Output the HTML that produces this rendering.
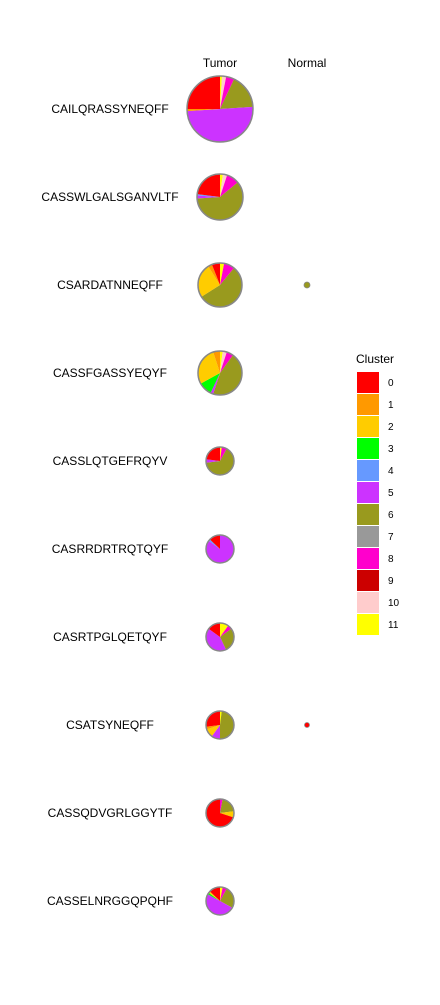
<!DOCTYPE html>
<html><head><style>body{margin:0;background:#fff}text{font-family:"Liberation Sans",sans-serif}</style></head>
<body>
<svg id="c" width="440" height="1000"></svg>
<script>
const clusters=["0","1","2","3","4","5","6","7","8","9","10","11"];
const colors=["#ff0000","#ff9900","#ffcc00","#00ff00","#6699ff","#cc33ff","#999a1e","#999999","#ff00cc","#cc0000","#ffcccc","#ffff00"];
const clonotypes=["CAILQRASSYNEQFF","CASSWLGALSGANVLTF","CSARDATNNEQFF","CASSFGASSYEQYF","CASSLQTGEFRQYV","CASRRDRTRQTQYF","CASRTPGLQETQYF","CSATSYNEQFF","CASSQDVGRLGGYTF","CASSELNRGGQPQHF"];
const tumorSizes=[33,23,22,22,14,14,14,14,14,14];
const tumorFractions=[
[.25,.01,0,0,0,.5,.17,0,.04,0,.02,.01],
[.23,0,0,0,.01,.02,.6,0,.09,0,.03,.02],
[.06,.03,.25,0,0,0,.55,0,.08,0,0,.03],
[0,.05,.28,.1,0,.02,.45,0,.05,0,.03,.02],
[.23,0,0,0,0,.04,.65,0,.06,0,0,.02],
[.13,0,0,0,.02,.85,0,0,0,0,0,0],
[.15,0,0,0,0,.42,.28,0,.05,0,0,.1],
[.27,.03,.1,0,0,.1,.48,0,0,0,0,.02],
[.7,0,.07,0,0,0,.2,0,.03,0,0,0],
[.13,0,.02,.02,0,.5,.25,0,.05,0,0,.03]];
const normalSizes=[0,0,3,0,0,0,0,2.5,0,0];
const normalFractions=[null,null,[0,0,0,0,0,0,1,0,0,0,0,0],null,null,null,null,[1,0,0,0,0,0,0,0,0,0,0,0],null,null];
const svg=document.getElementById('c');const NS="http://www.w3.org/2000/svg";
function el(t,a,p){const e=document.createElementNS(NS,t);for(const k in a)e.setAttribute(k,a[k]);(p||svg).appendChild(e);return e;}
const yRow=i=>109+i*88.0;const xCol=j=>220+j*87;
function pie(cx,cy,r,fr,name){
 const g=el('g',{});
 
 
 let a=0;const tot=fr.reduce((s,v)=>s+v,0);
 for(let k=11;k>=0;k--){const v=fr[k]/tot;if(!v)continue;
  const a0=a,a1=a+v*2*Math.PI;a=a1;
  const x0=cx+r*Math.sin(a0),y0=cy-r*Math.cos(a0),x1=cx+r*Math.sin(a1),y1=cy-r*Math.cos(a1);
  let s;
  if(v>=0.9999)s=el('circle',{cx,cy,r,fill:colors[k]},g);
  else s=el('path',{d:`M${cx},${cy}L${x0},${y0}A${r},${r} 0 ${v>0.5?1:0} 1 ${x1},${y1}Z`,fill:colors[k]},g);
  
  }
 const o=el('circle',{cx,cy,r,fill:'none',stroke:'#888',"stroke-width":r>5?1.5:0.8},g);
 
 
}
["Tumor","Normal"].forEach((h,j)=>{const t=el('text',{x:xCol(j),y:67,"text-anchor":"middle","font-size":12});t.textContent=h;
 
 });
clonotypes.forEach((c,i)=>{const t=el('text',{x:110,y:yRow(i)+4,"text-anchor":"middle","font-size":12});t.textContent=c;
 
 
 pie(xCol(0),yRow(i),tumorSizes[i],tumorFractions[i],'tumor-pie-'+c);
 if(normalFractions[i])pie(xCol(1),yRow(i),normalSizes[i],normalFractions[i],'normal-pie-'+c);});
const lt=el('text',{x:356,y:363,"font-size":12});lt.textContent="Cluster";


clusters.forEach((c,k)=>{const y=372+k*22;
 const r=el('rect',{x:357,y,width:22,height:21,fill:colors[k]});
 
 
 const t=el('text',{x:388,y:y+14,"font-size":10});t.textContent=c;
 
 });
</script>
</body></html>
